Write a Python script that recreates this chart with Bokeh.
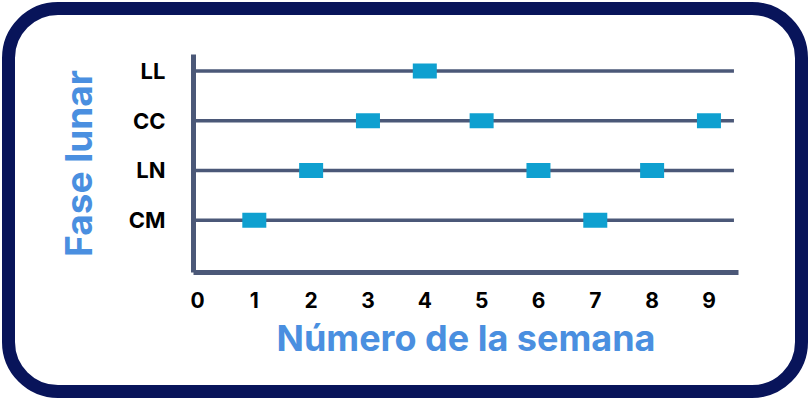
from bokeh.plotting import figure
from bokeh.models import Range1d, FixedTicker, ColumnDataSource
from bokeh.embed import file_html
from bokeh.resources import INLINE

# Data
phases = ["CM", "LN", "CC", "LL"]
phase_pos = [1, 2, 3, 4]
weeks = [1, 2, 3, 4, 5, 6, 7, 8, 9]
week_phase = ["CM", "LN", "CC", "LL", "CC", "LN", "CM", "LN", "CC"]
x_ticks = [0, 1, 2, 3, 4, 5, 6, 7, 8, 9]
x_title = "Número de la semana"
y_title = "Fase lunar"

FONT = "Inter"
LINE = "#4b5878"
MARK = "#0fa0d0"
BLUE = "#4a8fe0"
NAVY = "#08145a"

pmap = dict(zip(phases, phase_pos))
src = ColumnDataSource(dict(x=weeks, y=[pmap[p] for p in week_phase]))

p = figure(width=810, height=400, output_backend="svg", toolbar_location=None,
           x_range=Range1d(-0.07, 9.52), y_range=Range1d(-0.05, 4.33),
           min_border_left=193, min_border_right=72, min_border_top=54,
           min_border_bottom=128)
p.outline_line_color = None
p.grid.grid_line_color = None
p.background_fill_color = None
p.border_fill_color = None
p.styles = {"outline": "13px solid " + NAVY, "outline-offset": "-15px",
            "border-radius": "58px", "background-color": "white"}

# horizontal phase lines
p.segment(x0=[-0.07] * len(phases), x1=[9.44] * len(phases), y0=phase_pos, y1=phase_pos,
          line_color=LINE, line_width=3.5)

# markers
p.rect(x="x", y="y", width=24, height=15, width_units="screen", height_units="screen",
       source=src, fill_color=MARK, line_color=None)

# axes styling
xa = p.xaxis[0]
xa.ticker = FixedTicker(ticks=x_ticks)
xa.axis_label = x_title
ya = p.yaxis[0]
ya.ticker = FixedTicker(ticks=phase_pos)
ya.major_label_overrides = {v: k for k, v in zip(phases, phase_pos)}
ya.axis_label = y_title
for ax in (xa, ya):
    ax.axis_line_color = LINE
    ax.axis_line_width = 5
    ax.major_tick_line_color = None
    ax.minor_tick_line_color = None
    ax.major_label_text_font = FONT
    ax.major_label_text_font_style = "bold"
    ax.major_label_text_color = "black"
    ax.axis_label_text_font = FONT
    ax.axis_label_text_font_style = "bold"
    ax.axis_label_text_color = BLUE
xa.axis_label_text_font_size = "36px"
ya.axis_label_text_font_size = "37px"
xa.major_label_text_font_size = "21px"
ya.major_label_text_font_size = "22px"
xa.major_label_standoff = 13
ya.major_label_standoff = 22
xa.axis_label_standoff = 5
ya.axis_label_standoff = 25

open("out.html", "w").write(file_html(p, INLINE))
